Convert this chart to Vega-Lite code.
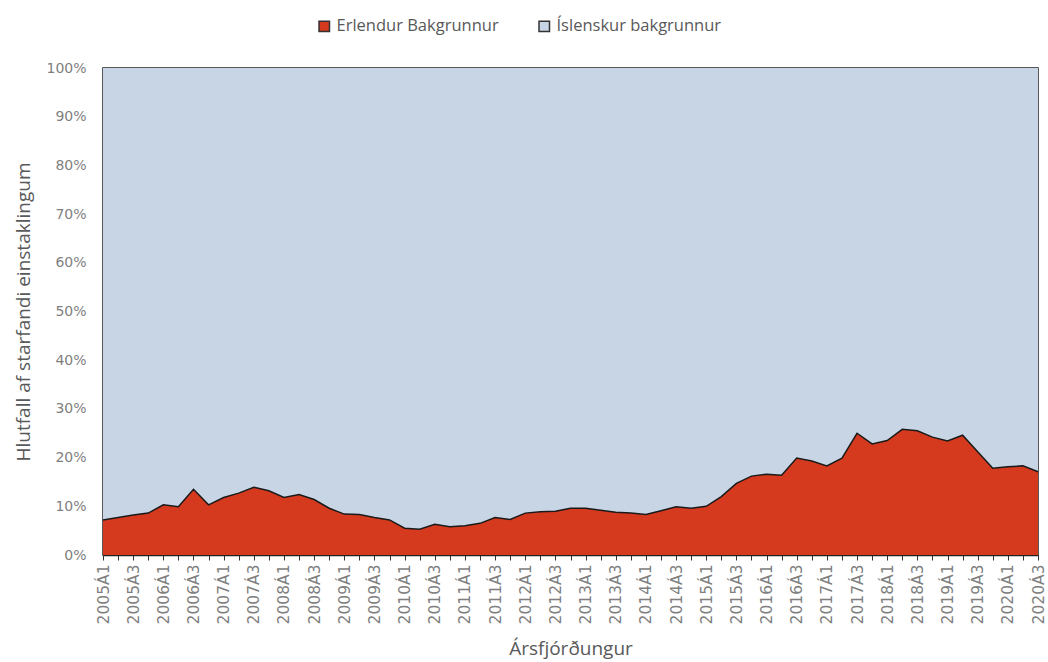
{
  "$schema": "https://vega.github.io/schema/vega-lite/v6.json",
  "autosize": {"type": "none"},
  "width": 935,
  "height": 487,
  "padding": {"left": 103, "top": 68, "right": 10, "bottom": 107},
  "background": "white",
  "config": {
    "view": {"stroke": "#222222", "strokeWidth": 1.5},
    "font": "Open Sans"
  },
  "data": {
    "values": [
      {"q": "2005Á1", "Erlendur Bakgrunnur": 7.2, "Íslenskur bakgrunnur": 92.8},
      {"q": "2005Á2", "Erlendur Bakgrunnur": 7.7, "Íslenskur bakgrunnur": 92.3},
      {"q": "2005Á3", "Erlendur Bakgrunnur": 8.2, "Íslenskur bakgrunnur": 91.8},
      {"q": "2005Á4", "Erlendur Bakgrunnur": 8.6, "Íslenskur bakgrunnur": 91.4},
      {"q": "2006Á1", "Erlendur Bakgrunnur": 10.3, "Íslenskur bakgrunnur": 89.7},
      {"q": "2006Á2", "Erlendur Bakgrunnur": 9.9, "Íslenskur bakgrunnur": 90.1},
      {"q": "2006Á3", "Erlendur Bakgrunnur": 13.5, "Íslenskur bakgrunnur": 86.5},
      {"q": "2006Á4", "Erlendur Bakgrunnur": 10.3, "Íslenskur bakgrunnur": 89.7},
      {"q": "2007Á1", "Erlendur Bakgrunnur": 11.8, "Íslenskur bakgrunnur": 88.2},
      {"q": "2007Á2", "Erlendur Bakgrunnur": 12.7, "Íslenskur bakgrunnur": 87.3},
      {"q": "2007Á3", "Erlendur Bakgrunnur": 13.9, "Íslenskur bakgrunnur": 86.1},
      {"q": "2007Á4", "Erlendur Bakgrunnur": 13.2, "Íslenskur bakgrunnur": 86.8},
      {"q": "2008Á1", "Erlendur Bakgrunnur": 11.8, "Íslenskur bakgrunnur": 88.2},
      {"q": "2008Á2", "Erlendur Bakgrunnur": 12.4, "Íslenskur bakgrunnur": 87.6},
      {"q": "2008Á3", "Erlendur Bakgrunnur": 11.4, "Íslenskur bakgrunnur": 88.6},
      {"q": "2008Á4", "Erlendur Bakgrunnur": 9.6, "Íslenskur bakgrunnur": 90.4},
      {"q": "2009Á1", "Erlendur Bakgrunnur": 8.4, "Íslenskur bakgrunnur": 91.6},
      {"q": "2009Á2", "Erlendur Bakgrunnur": 8.3, "Íslenskur bakgrunnur": 91.7},
      {"q": "2009Á3", "Erlendur Bakgrunnur": 7.7, "Íslenskur bakgrunnur": 92.3},
      {"q": "2009Á4", "Erlendur Bakgrunnur": 7.2, "Íslenskur bakgrunnur": 92.8},
      {"q": "2010Á1", "Erlendur Bakgrunnur": 5.5, "Íslenskur bakgrunnur": 94.5},
      {"q": "2010Á2", "Erlendur Bakgrunnur": 5.3, "Íslenskur bakgrunnur": 94.7},
      {"q": "2010Á3", "Erlendur Bakgrunnur": 6.3, "Íslenskur bakgrunnur": 93.7},
      {"q": "2010Á4", "Erlendur Bakgrunnur": 5.8, "Íslenskur bakgrunnur": 94.2},
      {"q": "2011Á1", "Erlendur Bakgrunnur": 6.0, "Íslenskur bakgrunnur": 94.0},
      {"q": "2011Á2", "Erlendur Bakgrunnur": 6.5, "Íslenskur bakgrunnur": 93.5},
      {"q": "2011Á3", "Erlendur Bakgrunnur": 7.7, "Íslenskur bakgrunnur": 92.3},
      {"q": "2011Á4", "Erlendur Bakgrunnur": 7.3, "Íslenskur bakgrunnur": 92.7},
      {"q": "2012Á1", "Erlendur Bakgrunnur": 8.6, "Íslenskur bakgrunnur": 91.4},
      {"q": "2012Á2", "Erlendur Bakgrunnur": 8.9, "Íslenskur bakgrunnur": 91.1},
      {"q": "2012Á3", "Erlendur Bakgrunnur": 9.0, "Íslenskur bakgrunnur": 91.0},
      {"q": "2012Á4", "Erlendur Bakgrunnur": 9.6, "Íslenskur bakgrunnur": 90.4},
      {"q": "2013Á1", "Erlendur Bakgrunnur": 9.6, "Íslenskur bakgrunnur": 90.4},
      {"q": "2013Á2", "Erlendur Bakgrunnur": 9.2, "Íslenskur bakgrunnur": 90.8},
      {"q": "2013Á3", "Erlendur Bakgrunnur": 8.8, "Íslenskur bakgrunnur": 91.2},
      {"q": "2013Á4", "Erlendur Bakgrunnur": 8.6, "Íslenskur bakgrunnur": 91.4},
      {"q": "2014Á1", "Erlendur Bakgrunnur": 8.3, "Íslenskur bakgrunnur": 91.7},
      {"q": "2014Á2", "Erlendur Bakgrunnur": 9.1, "Íslenskur bakgrunnur": 90.9},
      {"q": "2014Á3", "Erlendur Bakgrunnur": 9.9, "Íslenskur bakgrunnur": 90.1},
      {"q": "2014Á4", "Erlendur Bakgrunnur": 9.6, "Íslenskur bakgrunnur": 90.4},
      {"q": "2015Á1", "Erlendur Bakgrunnur": 10.0, "Íslenskur bakgrunnur": 90.0},
      {"q": "2015Á2", "Erlendur Bakgrunnur": 12.0, "Íslenskur bakgrunnur": 88.0},
      {"q": "2015Á3", "Erlendur Bakgrunnur": 14.7, "Íslenskur bakgrunnur": 85.3},
      {"q": "2015Á4", "Erlendur Bakgrunnur": 16.2, "Íslenskur bakgrunnur": 83.8},
      {"q": "2016Á1", "Erlendur Bakgrunnur": 16.6, "Íslenskur bakgrunnur": 83.4},
      {"q": "2016Á2", "Erlendur Bakgrunnur": 16.4, "Íslenskur bakgrunnur": 83.6},
      {"q": "2016Á3", "Erlendur Bakgrunnur": 19.9, "Íslenskur bakgrunnur": 80.1},
      {"q": "2016Á4", "Erlendur Bakgrunnur": 19.3, "Íslenskur bakgrunnur": 80.7},
      {"q": "2017Á1", "Erlendur Bakgrunnur": 18.3, "Íslenskur bakgrunnur": 81.7},
      {"q": "2017Á2", "Erlendur Bakgrunnur": 19.9, "Íslenskur bakgrunnur": 80.1},
      {"q": "2017Á3", "Erlendur Bakgrunnur": 25.0, "Íslenskur bakgrunnur": 75.0},
      {"q": "2017Á4", "Erlendur Bakgrunnur": 22.8, "Íslenskur bakgrunnur": 77.2},
      {"q": "2018Á1", "Erlendur Bakgrunnur": 23.5, "Íslenskur bakgrunnur": 76.5},
      {"q": "2018Á2", "Erlendur Bakgrunnur": 25.8, "Íslenskur bakgrunnur": 74.2},
      {"q": "2018Á3", "Erlendur Bakgrunnur": 25.5, "Íslenskur bakgrunnur": 74.5},
      {"q": "2018Á4", "Erlendur Bakgrunnur": 24.2, "Íslenskur bakgrunnur": 75.8},
      {"q": "2019Á1", "Erlendur Bakgrunnur": 23.4, "Íslenskur bakgrunnur": 76.6},
      {"q": "2019Á2", "Erlendur Bakgrunnur": 24.6, "Íslenskur bakgrunnur": 75.4},
      {"q": "2019Á3", "Erlendur Bakgrunnur": 21.2, "Íslenskur bakgrunnur": 78.8},
      {"q": "2019Á4", "Erlendur Bakgrunnur": 17.8, "Íslenskur bakgrunnur": 82.2},
      {"q": "2020Á1", "Erlendur Bakgrunnur": 18.1, "Íslenskur bakgrunnur": 81.9},
      {"q": "2020Á2", "Erlendur Bakgrunnur": 18.3, "Íslenskur bakgrunnur": 81.7},
      {"q": "2020Á3", "Erlendur Bakgrunnur": 17.1, "Íslenskur bakgrunnur": 82.9}
    ]
  },
  "encoding": {
    "x": {
      "field": "q",
      "type": "ordinal",
      "sort": null,
      "scale": {"type": "point", "padding": 0},
      "axis": {
        "title": "Ársfjórðungur",
        "titleFont": "Open Sans",
        "titleFontSize": 19,
        "titleFontWeight": "normal",
        "titleColor": "#595959",
        "titlePadding": 16,
        "labelAngle": -90,
        "labelFont": "DejaVu Sans",
        "labelFontSize": 15.5,
        "labelColor": "#7f7f7f",
        "labelPadding": 4,
        "labelOverlap": false,
        "labelExpr": "(indexof(datum.value, 'Á2') >= 0 || indexof(datum.value, 'Á4') >= 0) ? '' : datum.value",
        "tickColor": "#333333",
        "tickSize": 5,
        "domainColor": "#222222",
        "domainWidth": 1.5,
        "grid": false
      }
    }
  },
  "layer": [
    {
      "transform": [{"fold": ["Erlendur Bakgrunnur", "Íslenskur bakgrunnur"], "as": ["key", "value"]}],
      "mark": {"type": "area", "opacity": 1},
      "encoding": {
        "y": {
          "field": "value",
          "type": "quantitative",
          "stack": "zero",
          "scale": {"domain": [0, 100], "nice": false},
          "axis": {
            "title": "Hlutfall af starfandi einstaklingum",
            "titleFont": "Open Sans",
            "titleFontSize": 19,
            "titleFontWeight": "normal",
            "titleColor": "#595959",
            "titlePadding": 12,
            "values": [0, 10, 20, 30, 40, 50, 60, 70, 80, 90, 100],
            "labelExpr": "datum.value + '%'",
            "labelFont": "DejaVu Sans",
            "labelFontSize": 14,
            "labelColor": "#7f7f7f",
            "labelPadding": 17,
            "ticks": false,
            "domain": false,
            "grid": false
          }
        },
        "color": {
          "field": "key",
          "type": "nominal",
          "scale": {
            "domain": ["Erlendur Bakgrunnur", "Íslenskur bakgrunnur"],
            "range": ["#d63a1e", "#c7d5e5"]
          },
          "legend": {
            "orient": "none",
            "legendX": 213,
            "legendY": -50,
            "direction": "horizontal",
            "title": null,
            "symbolType": "square",
            "symbolSize": 110,
            "symbolStrokeColor": "#333333",
            "symbolStrokeWidth": 1.5,
            "labelFont": "Open Sans",
            "labelFontSize": 16.5,
            "labelLimit": 400,
            "labelColor": "#595959",
            "labelOffset": 4,
            "columnPadding": 37
          }
        },
        "order": {"field": "key", "sort": "ascending"}
      }
    },
    {
      "mark": {"type": "line", "color": "#1a1a1a", "strokeWidth": 1.5},
      "encoding": {
        "y": {"field": "Erlendur Bakgrunnur", "type": "quantitative"}
      }
    }
  ]
}
